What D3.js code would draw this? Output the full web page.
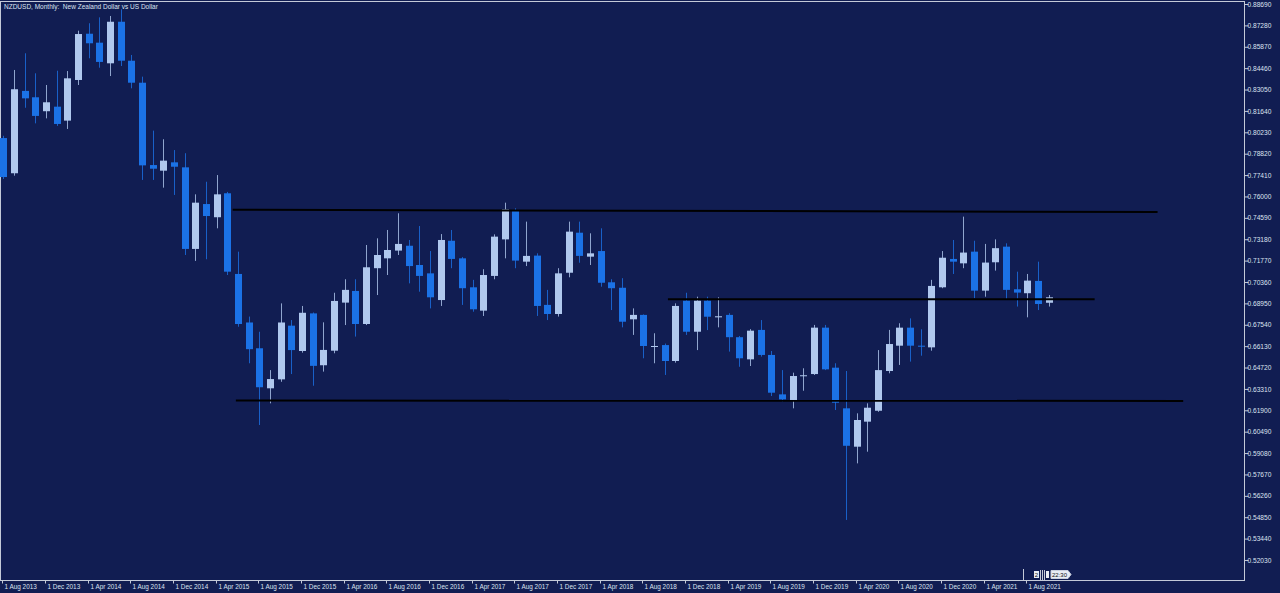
<!DOCTYPE html>
<html><head><meta charset="utf-8">
<script src="https://cdn.jsdelivr.net/npm/d3@7"></script>
<style>
html,body{margin:0;padding:0;background:#111d52;overflow:hidden}
text{font-family:"Liberation Sans",Arial,sans-serif}
</style>
</head><body><svg id="c" width="1280" height="593"></svg>
<script>
// ---- data (monthly NZDUSD candles, Aug 2013 .. Oct 2021) ----
const startMonth = new Date(2013, 7, 1);
const openV  = [0.7985,0.7753,0.8296,0.8254,0.8162,0.8192,0.8100,0.8368,0.8673,0.8614,0.8478,0.8752,0.8495,0.8350,0.7807,0.7770,0.7825,0.7792,0.7254,0.7550,0.7463,0.7621,0.7089,0.6769,0.6599,0.6335,0.6394,0.6748,0.6581,0.6829,0.6487,0.6583,0.6900,0.6977,0.6759,0.7127,0.7192,0.7243,0.7275,0.7148,0.7093,0.6917,0.7308,0.7192,0.7001,0.6847,0.7076,0.7317,0.7511,0.7170,0.7210,0.6885,0.6825,0.7097,0.7361,0.7203,0.7240,0.7034,0.6998,0.6790,0.6819,0.6611,0.6620,0.6515,0.6913,0.6708,0.6913,0.6803,0.6819,0.6672,0.6526,0.6720,0.6555,0.6295,0.6258,0.6416,0.6429,0.6735,0.6471,0.6203,0.5950,0.6115,0.6187,0.6449,0.6616,0.6735,0.6616,0.6605,0.7001,0.7188,0.7159,0.7236,0.6979,0.7166,0.7269,0.6988,0.6962,0.7043,0.6899];
const highV  = [0.8000,0.8434,0.8544,0.8412,0.8335,0.8429,0.8427,0.8693,0.8742,0.8781,0.8790,0.8834,0.8533,0.8390,0.8034,0.7977,0.7906,0.7885,0.7614,0.7697,0.7741,0.7630,0.7236,0.6808,0.6708,0.6455,0.6895,0.6785,0.6878,0.6835,0.6770,0.6965,0.7054,0.7054,0.7280,0.7324,0.7379,0.7489,0.7313,0.7405,0.7240,0.7352,0.7379,0.7200,0.7050,0.7120,0.7350,0.7559,0.7522,0.7434,0.7225,0.6984,0.7127,0.7434,0.7434,0.7357,0.7390,0.7054,0.7061,0.6862,0.6822,0.6698,0.6630,0.6895,0.6965,0.6939,0.6939,0.6935,0.6830,0.6680,0.6725,0.6785,0.6581,0.6455,0.6438,0.6467,0.6753,0.6753,0.6500,0.6449,0.6170,0.6236,0.6587,0.6720,0.6764,0.6796,0.6724,0.7050,0.7240,0.7313,0.7467,0.7308,0.7287,0.7317,0.7291,0.7104,0.7089,0.7170,0.6950];
const lowV   = [0.7715,0.7737,0.8185,0.8082,0.8115,0.8065,0.8045,0.8335,0.8511,0.8449,0.8394,0.8460,0.8313,0.7709,0.7709,0.7658,0.7610,0.7214,0.7175,0.7186,0.7390,0.7082,0.6741,0.6500,0.6093,0.6236,0.6378,0.6429,0.6570,0.6352,0.6445,0.6566,0.6752,0.6676,0.6752,0.6950,0.7082,0.7214,0.7027,0.6972,0.6862,0.6878,0.7127,0.6885,0.6840,0.6812,0.7054,0.7192,0.7127,0.7141,0.6812,0.6785,0.6808,0.7067,0.7163,0.7148,0.7005,0.6851,0.6737,0.6687,0.6533,0.6500,0.6423,0.6504,0.6687,0.6587,0.6719,0.6737,0.6577,0.6477,0.6482,0.6544,0.6284,0.6247,0.6203,0.6319,0.6423,0.6455,0.6192,0.5467,0.5840,0.5917,0.6180,0.6434,0.6489,0.6511,0.6550,0.6583,0.6995,0.7089,0.7127,0.6929,0.6939,0.7111,0.6922,0.6874,0.6803,0.6851,0.6874];
const closeV = [0.7728,0.8307,0.8247,0.8131,0.8221,0.8078,0.8379,0.8671,0.8610,0.8487,0.8752,0.8495,0.8350,0.7805,0.7783,0.7836,0.7796,0.7254,0.7559,0.7471,0.7614,0.7104,0.6759,0.6593,0.6342,0.6396,0.6769,0.6587,0.6833,0.6483,0.6588,0.6911,0.6984,0.6759,0.7133,0.7214,0.7247,0.7287,0.7141,0.7076,0.6935,0.7313,0.7188,0.6995,0.6856,0.7082,0.7335,0.7515,0.7177,0.7208,0.6878,0.6825,0.7093,0.7368,0.7208,0.7225,0.7031,0.6995,0.6774,0.6819,0.6614,0.6614,0.6515,0.6878,0.6708,0.6913,0.6807,0.6810,0.6672,0.6533,0.6715,0.6555,0.6306,0.6262,0.6416,0.6421,0.6735,0.6460,0.6240,0.5956,0.6126,0.6207,0.6455,0.6627,0.6735,0.6616,0.6610,0.7010,0.7196,0.7170,0.7230,0.6979,0.7164,0.7259,0.6984,0.6966,0.7045,0.6891,0.6935];

const yTickLabels = ["0.88690","0.87280","0.85870","0.84460","0.83050","0.81640","0.80230","0.78820","0.77410","0.76000","0.74590","0.73180","0.71770","0.70360","0.68950","0.67540","0.66130","0.64720","0.63310","0.61900","0.60490","0.59080","0.57670","0.56260","0.54850","0.53440","0.52030"];
const xTickLabels = ["1 Aug 2013","1 Dec 2013","1 Apr 2014","1 Aug 2014","1 Dec 2014","1 Apr 2015","1 Aug 2015","1 Dec 2015","1 Apr 2016","1 Aug 2016","1 Dec 2016","1 Apr 2017","1 Aug 2017","1 Dec 2017","1 Apr 2018","1 Aug 2018","1 Dec 2018","1 Apr 2019","1 Aug 2019","1 Dec 2019","1 Apr 2020","1 Aug 2020","1 Dec 2020","1 Apr 2021","1 Aug 2021"];

// horizontal support / resistance lines: [startBar, startPrice, endBar, endPrice]
const hLineStart = [21.5, 62.3, 21.8];
const hLineEnd   = [108.2, 102.3, 110.6];
const hLinePrice0 = [0.7512, 0.6922, 0.6254];
const hLinePrice1 = [0.7497, 0.6922, 0.6252];

const titleText = "NZDUSD, Monthly:  New Zealand Dollar vs US Dollar";

// ---- build ----
const months = d3.timeMonth.range(startMonth, d3.timeMonth.offset(startMonth, openV.length));
const bars = months.map((m, i) => ({i, date: m, o: openV[i], h: highV[i], l: lowV[i], c: closeV[i]}));

const W = 1280, H = 593;
const plot = {left: 0.5, right: 1244.5, top: 1.5, bottom: 580.5};
const svg = d3.select("#c");
const BG = "#111d52", BULL = "#b0c8ee", BEAR = "#1b72e6", FG = "#dde3f0", FRAME = "#c4cad8";

svg.append("rect").attr("width", W).attr("height", H).attr("fill", BG);

const x = d3.scaleLinear().domain([-0.31, 116.3]).range([0, 1244]);
const y = d3.scaleLinear().domain([0.50677, 0.88822]).range([580.5, 2]);

// frame
svg.append("rect").attr("x", plot.left).attr("y", plot.top)
  .attr("width", plot.right - plot.left).attr("height", plot.bottom - plot.top)
  .attr("fill", "none").attr("stroke", FRAME).attr("stroke-width", 1);

const g = svg.append("g");
// candles
const cx = d => Math.round(x(d.i));
g.selectAll("line.wick").data(bars).join("line").attr("class", "wick")
  .attr("x1", d => cx(d) + 0.5).attr("x2", d => cx(d) + 0.5)
  .attr("y1", d => y(d.h)).attr("y2", d => y(d.l))
  .attr("stroke", d => d.c > d.o ? BULL : BEAR).attr("stroke-width", 1).attr("stroke-opacity", 0.8);
g.selectAll("rect.body").data(bars).join("rect").attr("class", "body")
  .attr("x", d => cx(d) - 3).attr("width", 7)
  .attr("y", d => Math.min(y(d.o), y(d.c)))
  .attr("height", d => Math.max(1, Math.abs(y(d.o) - y(d.c))))
  .attr("fill", d => d.c > d.o ? BULL : BEAR);

// horizontal lines
g.selectAll("line.hl").data(hLineStart).join("line").attr("class", "hl")
  .attr("x1", (d, k) => x(hLineStart[k])).attr("x2", (d, k) => x(hLineEnd[k]))
  .attr("y1", (d, k) => y(hLinePrice0[k])).attr("y2", (d, k) => y(hLinePrice1[k]))
  .attr("stroke", "#000").attr("stroke-width", 2);

// y axis
const yAxis = d3.axisRight(y).tickValues(yTickLabels.map(Number)).tickSize(4).tickPadding(2)
  .tickFormat((d, k) => yTickLabels[k]);
const ya = svg.append("g").attr("transform", `translate(${plot.right},0)`).call(yAxis);
ya.select(".domain").remove();
ya.selectAll(".tick line").attr("stroke", FRAME);
ya.selectAll(".tick text").attr("fill", FG).attr("font-size", 6.6).attr("x", 3);

// x axis
const xTickIdx = xTickLabels.map((lab, k) => k * 4);
const xAxis = d3.axisBottom(x).tickValues(xTickIdx).tickSize(3).tickFormat((d, k) => xTickLabels[k]);
const xa = svg.append("g").attr("transform", `translate(0,${plot.bottom})`).call(xAxis);
xa.select(".domain").remove();
xa.selectAll(".tick").attr("transform", d => `translate(${Math.round(x(d)) - 0.5},0)`);
xa.selectAll(".tick line").attr("stroke", FRAME);
xa.selectAll(".tick text").attr("fill", FG).attr("font-size", 6.4)
  .attr("text-anchor", "start").attr("x", 2).attr("y", 4).attr("dy", "0.71em");

// title
svg.append("text").attr("x", 4).attr("y", 9).attr("fill", FG).attr("font-size", 6.5)
  .style("white-space", "pre").text(titleText);

// bottom-right time markers
const mk = svg.append("g");
mk.append("line").attr("x1", 1023.5).attr("x2", 1023.5).attr("y1", 569).attr("y2", 580).attr("stroke", FRAME);
mk.append("rect").attr("x", 1034).attr("y", 571).attr("width", 5).attr("height", 7).attr("fill", "#e8ecf4");
mk.append("text").attr("x", 1036.5).attr("y", 577).attr("font-size", 6).attr("text-anchor", "middle").attr("fill", "#111").text("2");
[1040.5, 1042.5, 1044.5].forEach(v => mk.append("line").attr("x1", v).attr("x2", v).attr("y1", 570).attr("y2", 580).attr("stroke", FRAME));
mk.append("rect").attr("x", 1046).attr("y", 571).attr("width", 3).attr("height", 7).attr("fill", "#e8ecf4");
mk.append("path").attr("d", "M1051,570.5 H1068 L1071,574.5 L1068,578.5 H1051 Z").attr("fill", "#e8ecf4").attr("stroke", "#c8cedc");
mk.append("text").attr("x", 1059.5).attr("y", 577).attr("font-size", 6).attr("text-anchor", "middle").attr("fill", "#111").text("22:30");
</script>
</body></html>
